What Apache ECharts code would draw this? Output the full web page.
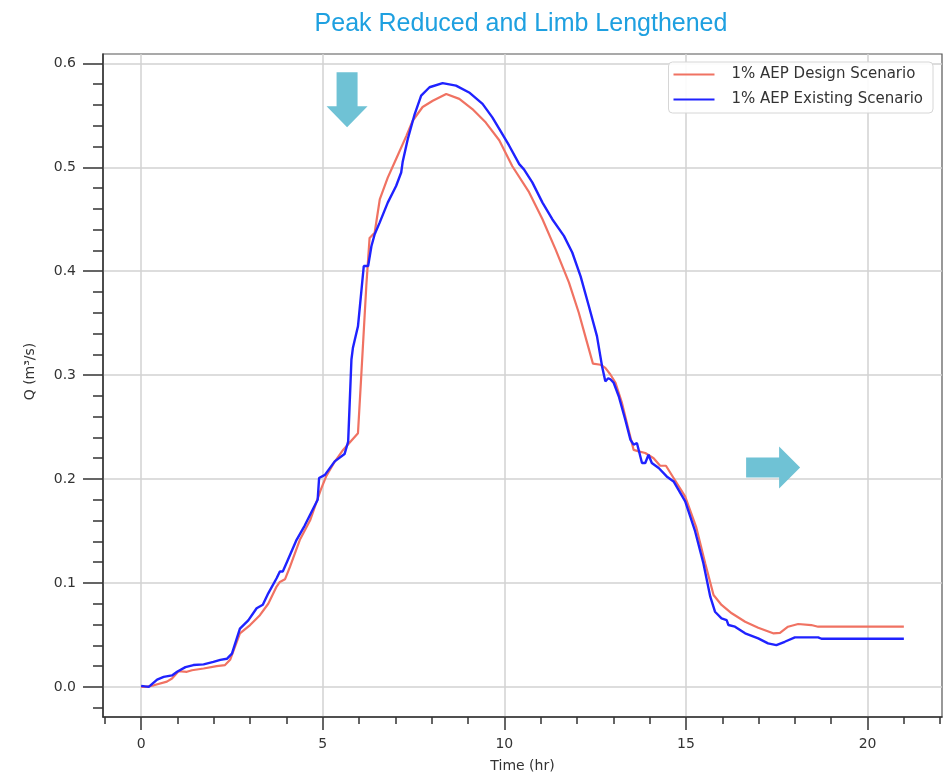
<!DOCTYPE html>
<html><head><meta charset="utf-8">
<script src="https://cdn.jsdelivr.net/npm/echarts@6/dist/echarts.min.js"></script>
<style>html,body{margin:0;padding:0;background:#fff}#c{width:948px;height:780px}</style>
</head><body><div id="c"></div><script>
const titleText = 'Peak Reduced and Limb Lengthened';
const designName = '1% AEP Design Scenario';
const existingName = '1% AEP Existing Scenario';

const designT = [0,0.12,0.35,0.71,0.85,1.03,1.26,1.4,1.72,2.08,2.31,2.45,2.72,3.0,3.27,3.5,3.73,3.82,3.96,4.1,4.37,4.65,4.95,5.1,5.3,5.56,5.97,6.06,6.2,6.29,6.43,6.57,6.79,7.02,7.3,7.48,7.75,8.03,8.4,8.76,9.12,9.49,9.86,10.22,10.68,11.05,11.41,11.78,12.05,12.28,12.44,12.65,12.78,12.92,13.06,13.24,13.42,13.56,13.7,13.88,14.11,14.29,14.45,14.66,14.98,15.28,15.53,15.76,15.98,16.26,16.63,16.99,17.4,17.59,17.81,18.09,18.45,18.64,21];
const designQ = [0,0,0.0015,0.005,0.008,0.015,0.0145,0.016,0.0177,0.02,0.021,0.026,0.0515,0.0595,0.069,0.080,0.0965,0.101,0.1035,0.1157,0.1415,0.16,0.19,0.203,0.215,0.228,0.244,0.299,0.386,0.432,0.437,0.469,0.49,0.508,0.53,0.545,0.558,0.564,0.5706,0.5658,0.556,0.543,0.526,0.501,0.476,0.45,0.421,0.389,0.36,0.331,0.311,0.31,0.307,0.3006,0.2926,0.273,0.2475,0.228,0.2266,0.225,0.22,0.2128,0.2128,0.201,0.183,0.154,0.119,0.0884,0.0788,0.0708,0.0627,0.0569,0.0515,0.052,0.0579,0.0605,0.0595,0.0579,0.0579];

const existingT = [0,0.21,0.44,0.62,0.85,0.99,1.22,1.44,1.72,1.99,2.18,2.36,2.5,2.72,2.95,3.18,3.35,3.5,3.73,3.82,3.9,4.0,4.28,4.5,4.86,4.9,5.06,5.33,5.6,5.7,5.79,5.83,5.97,6.13,6.25,6.34,6.43,6.57,6.79,7.02,7.16,7.2,7.34,7.53,7.71,7.94,8.3,8.67,9.03,9.4,9.67,9.86,10.13,10.41,10.54,10.77,11.05,11.32,11.64,11.87,12.1,12.33,12.55,12.69,12.78,12.86,12.92,13.01,13.15,13.33,13.47,13.56,13.65,13.79,13.88,13.97,14.06,14.25,14.47,14.66,14.98,15.25,15.48,15.67,15.8,15.98,16.12,16.17,16.35,16.63,16.99,17.26,17.49,17.72,18.0,18.64,18.73,21];
const existingQ = [0.001,0,0.007,0.0096,0.011,0.0145,0.019,0.021,0.0216,0.024,0.026,0.027,0.032,0.056,0.064,0.0756,0.079,0.09,0.1045,0.111,0.111,0.119,0.1415,0.155,0.18,0.201,0.204,0.217,0.224,0.236,0.315,0.326,0.347,0.405,0.405,0.424,0.4355,0.447,0.466,0.482,0.495,0.505,0.527,0.551,0.569,0.577,0.581,0.5786,0.572,0.561,0.548,0.537,0.521,0.503,0.498,0.4855,0.466,0.45,0.434,0.418,0.395,0.366,0.3375,0.3086,0.294,0.297,0.296,0.2926,0.2797,0.257,0.238,0.233,0.2347,0.2154,0.2154,0.2234,0.2154,0.2106,0.2025,0.1977,0.1784,0.15,0.119,0.0868,0.0723,0.066,0.0643,0.0595,0.0579,0.0515,0.0467,0.0418,0.0402,0.0434,0.0476,0.0476,0.0463,0.0463];

const xMajorTicks = [0,5,10,15,20];
const xMinorTicks = [-1,1,2,3,4,6,7,8,9,11,12,13,14,16,17,18,19,21,22];
const yMajorTicks = [0,0.1,0.2,0.3,0.4,0.5,0.6];
const yMinorTicks = [-0.02,0.02,0.04,0.06,0.08,0.12,0.14,0.16,0.18,0.22,0.24,0.26,0.28,0.32,0.34,0.36,0.38,0.42,0.44,0.46,0.48,0.52,0.54,0.56,0.58];

const xRange = [-1.05, 22.05];
const yRange = [-0.029, 0.609];

const downArrowAt = [5.67, 0.565];
const rightArrowAt = [17.4, 0.211];

const zip = (a, b) => a.map((v, i) => [v, b[i]]);
const FONT = 'DejaVu Sans';
const AX = '#333';

const chart = echarts.init(document.getElementById('c'), null, {renderer: 'canvas'});
chart.setOption({
  animation: false,
  backgroundColor: '#fff',
  title: {
    text: titleText, left: 516, top: 7, textAlign: 'center',
    textStyle: {fontFamily: 'Liberation Sans', fontSize: 25, fontWeight: 'normal', color: '#1ea0e0'}
  },
  legend: {
    orient: 'vertical', right: 15, top: 62,
    data: [designName, existingName],
    icon: 'rect', itemWidth: 41, itemHeight: 2, itemGap: 10,
    padding: [5, 10, 6, 5],
    backgroundColor: 'rgba(255,255,255,0.9)', borderColor: '#d6d6d6', borderWidth: 1, borderRadius: 4,
    textStyle: {fontFamily: FONT, fontSize: 15, color: '#333', padding: [0, 0, 0, 12]}
  },
  grid: {left: 103, right: 6, top: 54, bottom: 63, show: true, borderColor: '#555', borderWidth: 1.2},
  xAxis: [{
    type: 'value', min: xRange[0], max: xRange[1], position: 'bottom',
    name: 'Time (hr)', nameLocation: 'middle', nameGap: 42,
    nameTextStyle: {fontFamily: FONT, fontSize: 14, color: '#333'},
    axisLine: {show: true, onZero: false, lineStyle: {color: AX, width: 1.5}},
    axisTick: {show: true, customValues: xMajorTicks, length: 13, lineStyle: {color: AX, width: 1.5}},
    axisLabel: {customValues: xMajorTicks, margin: 20, fontFamily: FONT, fontSize: 14, color: '#333'},
    splitLine: {show: true, lineStyle: {color: '#d2d2d2', width: 1.5}}
  }, {
    type: 'value', min: xRange[0], max: xRange[1], position: 'bottom', offset: 0,
    axisLine: {show: false, onZero: false}, splitLine: {show: false}, axisLabel: {show: false},
    axisTick: {show: true, inside: false, customValues: xMinorTicks, length: 7, lineStyle: {color: AX, width: 1.5}}
  }],
  yAxis: [{
    type: 'value', min: yRange[0], max: yRange[1], position: 'left',
    name: 'Q (m³/s)', nameLocation: 'middle', nameGap: 66,
    nameTextStyle: {fontFamily: FONT, fontSize: 14, color: '#333', padding: [0, 0, 0, 28]},
    axisLine: {show: true, onZero: false, lineStyle: {color: AX, width: 1.5}},
    axisTick: {show: true, customValues: yMajorTicks, length: 20, lineStyle: {color: AX, width: 1.5}},
    axisLabel: {customValues: yMajorTicks, margin: 27, fontFamily: FONT, fontSize: 14, color: '#333',
      formatter: v => v.toFixed(1)},
    splitLine: {show: true, lineStyle: {color: '#d2d2d2', width: 1.5}}
  }, {
    type: 'value', min: yRange[0], max: yRange[1], position: 'left', offset: 0,
    axisLine: {show: false, onZero: false}, splitLine: {show: false}, axisLabel: {show: false},
    axisTick: {show: true, inside: false, customValues: yMinorTicks, length: 10, lineStyle: {color: AX, width: 1.5}}
  }],
  series: [{
    name: designName, type: 'line', xAxisIndex: 0, yAxisIndex: 0,
    data: zip(designT, designQ), showSymbol: false, symbol: 'none',
    lineStyle: {color: '#f07262', width: 2.2}, itemStyle: {color: '#f07262'}
  }, {
    name: existingName, type: 'line', xAxisIndex: 0, yAxisIndex: 0,
    data: zip(existingT, existingQ), showSymbol: false, symbol: 'none',
    lineStyle: {color: '#1f22ff', width: 2.4}, itemStyle: {color: '#1f22ff'},
    markPoint: {
      silent: true, label: {show: false},
      data: [
        {coord: downArrowAt, symbol: 'path://M10,0 L31,0 L31,34 L41,34 L20.5,55 L0,34 L10,34 Z', symbolSize: [41, 55], itemStyle: {color: '#6fc2d5'}},
        {coord: rightArrowAt, symbol: 'path://M0,11 L33,11 L33,0 L54,21 L33,42 L33,31 L0,31 Z', symbolSize: [54, 42], itemStyle: {color: '#6fc2d5'}}
      ]
    }
  }]
});
</script></body></html>
